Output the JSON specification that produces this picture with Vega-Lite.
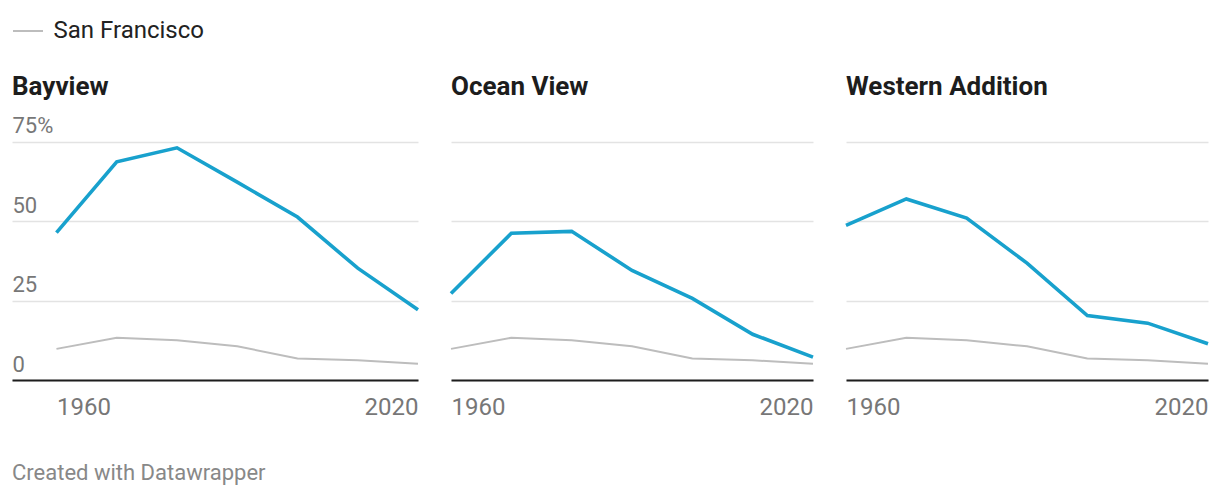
{
  "$schema": "https://vega.github.io/schema/vega-lite/v6.json",
  "background": "white",
  "padding": {"left": 12, "top": 15, "right": 0, "bottom": 10},
  "autosize": {"type": "pad"},
  "datasets": {
    "rows": [
      {"area": "San Francisco", "year": 1960, "pct": 9.8},
      {"area": "San Francisco", "year": 1970, "pct": 13.3},
      {"area": "San Francisco", "year": 1980, "pct": 12.5},
      {"area": "San Francisco", "year": 1990, "pct": 10.6},
      {"area": "San Francisco", "year": 2000, "pct": 6.8},
      {"area": "San Francisco", "year": 2010, "pct": 6.2},
      {"area": "San Francisco", "year": 2020, "pct": 5.1},
      {"area": "Bayview", "year": 1960, "pct": 46.4},
      {"area": "Bayview", "year": 1970, "pct": 68.7},
      {"area": "Bayview", "year": 1980, "pct": 73.1},
      {"area": "Bayview", "year": 1990, "pct": 62.3},
      {"area": "Bayview", "year": 2000, "pct": 51.3},
      {"area": "Bayview", "year": 2010, "pct": 35.2},
      {"area": "Bayview", "year": 2020, "pct": 22.1},
      {"area": "Ocean View", "year": 1960, "pct": 27.2},
      {"area": "Ocean View", "year": 1970, "pct": 46.2},
      {"area": "Ocean View", "year": 1980, "pct": 46.8},
      {"area": "Ocean View", "year": 1990, "pct": 34.5},
      {"area": "Ocean View", "year": 2000, "pct": 25.7},
      {"area": "Ocean View", "year": 2010, "pct": 14.4},
      {"area": "Ocean View", "year": 2020, "pct": 7.2},
      {"area": "Western Addition", "year": 1960, "pct": 48.7},
      {"area": "Western Addition", "year": 1970, "pct": 57.0},
      {"area": "Western Addition", "year": 1980, "pct": 51.0},
      {"area": "Western Addition", "year": 1990, "pct": 36.8},
      {"area": "Western Addition", "year": 2000, "pct": 20.3},
      {"area": "Western Addition", "year": 2010, "pct": 17.9},
      {"area": "Western Addition", "year": 2020, "pct": 11.4}
    ]
  },
  "title": {
    "text": "Created with Datawrapper",
    "orient": "bottom",
    "anchor": "start",
    "fontSize": 22,
    "fontWeight": "normal",
    "font": "Roboto",
    "color": "#888888",
    "offset": 44
  },
  "spacing": 17,
  "resolve": {
    "scale": {"x": "independent", "y": "independent", "color": "shared"},
    "legend": {"color": "shared"}
  },
  "hconcat": [
    {
      "width": 406,
      "height": 270,
      "data": {"name": "rows"},
      "title": {"text": "Bayview", "anchor": "start", "frame": "group", "fontSize": 26, "fontWeight": "bold", "font": "Roboto", "color": "#1d1d1d", "baseline": "alphabetic", "offset": -10.5},
      "layer": [
        {
          "transform": [{"filter": "datum.area == 'San Francisco'"}],
          "mark": {"type": "line", "strokeWidth": 2},
          "encoding": {
            "x": {"field": "year", "type": "quantitative", "scale": {"domain": [1952.62, 2020], "nice": false, "zero": false},
              "axis": {"values": [1960, 2020], "format": "d", "title": null, "grid": false, "ticks": false, "tickSize": 0, "domain": true, "domainColor": "#1d1d1d", "domainWidth": 2, "labelFont": "Roboto", "labelFontSize": 24, "labelColor": "#777777", "labelPadding": 15, "labelFlush": false, "labelOverlap": false, "labelBaseline": "top", "labelAlign": {"expr": "datum.value <= 1960 ? 'left' : 'right'"}}},
            "y": {"field": "pct", "type": "quantitative", "scale": {"domain": [0, 85], "nice": false},
              "axis": {"values": [0, 25, 50, 75], "title": null, "grid": true, "gridColor": "#e3e3e3", "gridWidth": 1.5, "ticks": false, "tickSize": 0, "domain": false, "minExtent": 0, "labelFont": "Roboto", "labelFontSize": 22, "labelColor": "#777777", "labelPadding": 0, "labelAlign": "left", "labelBaseline": "alphabetic", "labelOffset": -9, "labelFlush": false, "labelOverlap": false, "labelExpr": "datum.value == 75 ? datum.label + '%' : datum.label"}},
            "color": {"field": "area", "type": "nominal", "scale": {"domain": ["San Francisco"], "range": ["#bdbdbd"]},
              "legend": {"orient": "top", "title": null, "symbolType": "stroke", "symbolStrokeWidth": 2, "symbolSize": 900, "labelFont": "Roboto", "labelFontSize": 24, "labelColor": "#222222", "labelOffset": 9.5, "padding": 0, "offset": 30}}
          }
        },
        {
          "transform": [{"filter": "datum.area == 'Bayview'"}],
          "mark": {"type": "line", "strokeWidth": 3.6, "color": "#18a1cd"},
          "encoding": {
            "x": {"field": "year", "type": "quantitative"},
            "y": {"field": "pct", "type": "quantitative"}
          }
        }
      ]
    },
    {
      "width": 362,
      "height": 270,
      "data": {"name": "rows"},
      "title": {"text": "Ocean View", "anchor": "start", "frame": "group", "fontSize": 26, "fontWeight": "bold", "font": "Roboto", "color": "#1d1d1d", "baseline": "alphabetic", "offset": -10.5},
      "layer": [
        {
          "transform": [{"filter": "datum.area == 'San Francisco'"}],
          "mark": {"type": "line", "strokeWidth": 2},
          "encoding": {
            "x": {"field": "year", "type": "quantitative", "scale": {"domain": [1960, 2020], "nice": false, "zero": false},
              "axis": {"values": [1960, 2020], "format": "d", "title": null, "grid": false, "ticks": false, "tickSize": 0, "domain": true, "domainColor": "#1d1d1d", "domainWidth": 2, "labelFont": "Roboto", "labelFontSize": 24, "labelColor": "#777777", "labelPadding": 15, "labelFlush": false, "labelOverlap": false, "labelBaseline": "top", "labelAlign": {"expr": "datum.value <= 1960 ? 'left' : 'right'"}}},
            "y": {"field": "pct", "type": "quantitative", "scale": {"domain": [0, 85], "nice": false},
              "axis": {"values": [0, 25, 50, 75], "title": null, "grid": true, "gridColor": "#e3e3e3", "gridWidth": 1.5, "ticks": false, "tickSize": 0, "domain": false, "labels": false, "minExtent": 0, "labelPadding": 0}},
            "color": {"field": "area", "type": "nominal", "scale": {"domain": ["San Francisco"], "range": ["#bdbdbd"]},
              "legend": {"orient": "top", "title": null, "symbolType": "stroke", "symbolStrokeWidth": 2, "symbolSize": 900, "labelFont": "Roboto", "labelFontSize": 24, "labelColor": "#222222", "labelOffset": 9.5, "padding": 0, "offset": 30}}
          }
        },
        {
          "transform": [{"filter": "datum.area == 'Ocean View'"}],
          "mark": {"type": "line", "strokeWidth": 3.6, "color": "#18a1cd"},
          "encoding": {
            "x": {"field": "year", "type": "quantitative"},
            "y": {"field": "pct", "type": "quantitative"}
          }
        }
      ]
    },
    {
      "width": 362,
      "height": 270,
      "data": {"name": "rows"},
      "title": {"text": "Western Addition", "anchor": "start", "frame": "group", "fontSize": 26, "fontWeight": "bold", "font": "Roboto", "color": "#1d1d1d", "baseline": "alphabetic", "offset": -10.5},
      "layer": [
        {
          "transform": [{"filter": "datum.area == 'San Francisco'"}],
          "mark": {"type": "line", "strokeWidth": 2},
          "encoding": {
            "x": {"field": "year", "type": "quantitative", "scale": {"domain": [1960, 2020], "nice": false, "zero": false},
              "axis": {"values": [1960, 2020], "format": "d", "title": null, "grid": false, "ticks": false, "tickSize": 0, "domain": true, "domainColor": "#1d1d1d", "domainWidth": 2, "labelFont": "Roboto", "labelFontSize": 24, "labelColor": "#777777", "labelPadding": 15, "labelFlush": false, "labelOverlap": false, "labelBaseline": "top", "labelAlign": {"expr": "datum.value <= 1960 ? 'left' : 'right'"}}},
            "y": {"field": "pct", "type": "quantitative", "scale": {"domain": [0, 85], "nice": false},
              "axis": {"values": [0, 25, 50, 75], "title": null, "grid": true, "gridColor": "#e3e3e3", "gridWidth": 1.5, "ticks": false, "tickSize": 0, "domain": false, "labels": false, "minExtent": 0, "labelPadding": 0}},
            "color": {"field": "area", "type": "nominal", "scale": {"domain": ["San Francisco"], "range": ["#bdbdbd"]},
              "legend": {"orient": "top", "title": null, "symbolType": "stroke", "symbolStrokeWidth": 2, "symbolSize": 900, "labelFont": "Roboto", "labelFontSize": 24, "labelColor": "#222222", "labelOffset": 9.5, "padding": 0, "offset": 30}}
          }
        },
        {
          "transform": [{"filter": "datum.area == 'Western Addition'"}],
          "mark": {"type": "line", "strokeWidth": 3.6, "color": "#18a1cd"},
          "encoding": {
            "x": {"field": "year", "type": "quantitative"},
            "y": {"field": "pct", "type": "quantitative"}
          }
        }
      ]
    }
  ],
  "config": {
    "view": {"stroke": null},
    "font": "Roboto",
    "legend": {"layout": {"top": {"anchor": "start"}}}
  }
}
